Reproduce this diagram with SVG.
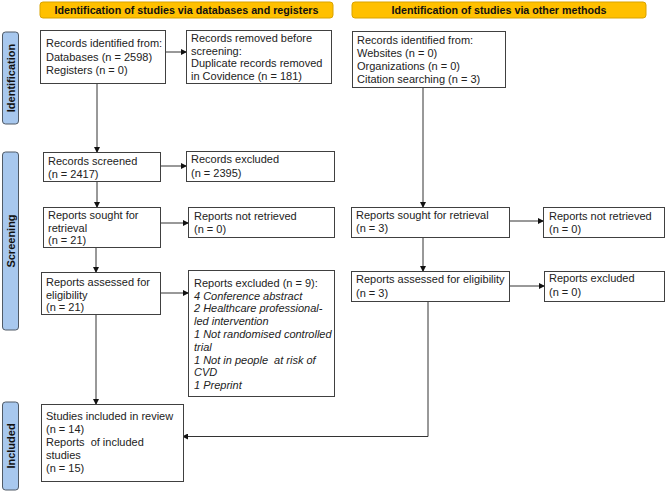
<svg xmlns="http://www.w3.org/2000/svg" width="669" height="492" viewBox="0 0 669 492">
<style>
.box{fill:#fff;stroke:#404040;stroke-width:1}
.hdr{fill:#FFC000;stroke:#D9A300;stroke-width:1}
.side{fill:#A8C8EE;stroke:#505a66;stroke-width:1}
.t{font-family:"Liberation Sans",Arial,sans-serif;font-size:11px;fill:#222;white-space:pre}
.i{font-style:italic}
.h{font-family:"Liberation Sans",Arial,sans-serif;font-size:11px;font-weight:bold;fill:#111}
.s{font-family:"Liberation Sans",Arial,sans-serif;font-size:11px;font-weight:bold;fill:#111}
.c{fill:none;stroke:#333;stroke-width:1}
</style>
<defs>
<marker id="ah" markerWidth="6" markerHeight="6" refX="5" refY="3" orient="auto" markerUnits="userSpaceOnUse">
<path d="M0,0 L6,3 L0,6 Z" fill="#111"/>
</marker>
</defs>

<g id="header-left"><rect class="hdr" x="40" y="2" width="293" height="16" rx="3"/><text class="h" x="186.5" y="13.5" text-anchor="middle" textLength="264" lengthAdjust="spacingAndGlyphs">Identification of studies via databases and registers</text></g>
<g id="header-right"><rect class="hdr" x="352" y="2" width="294" height="16" rx="3"/><text class="h" x="499" y="13.5" text-anchor="middle" textLength="215" lengthAdjust="spacingAndGlyphs">Identification of studies via other methods</text></g>

<g id="side-identification"><rect class="side" x="2.5" y="32" width="16" height="92" rx="3"/><text class="s" transform="translate(14.5,78) rotate(-90)" text-anchor="middle">Identification</text></g>
<g id="side-screening"><rect class="side" x="2.5" y="152" width="16" height="178" rx="3"/><text class="s" transform="translate(14.5,241) rotate(-90)" text-anchor="middle">Screening</text></g>
<g id="side-included"><rect class="side" x="2.5" y="402" width="16" height="88" rx="3"/><text class="s" transform="translate(14.5,446) rotate(-90)" text-anchor="middle">Included</text></g>

<g id="connectors">
<line class="c" x1="166" y1="52" x2="186" y2="52" marker-end="url(#ah)"/>
<line class="c" x1="97" y1="83" x2="97" y2="152" marker-end="url(#ah)"/>
<line class="c" x1="161" y1="166" x2="186" y2="166" marker-end="url(#ah)"/>
<line class="c" x1="97" y1="182" x2="97" y2="207" marker-end="url(#ah)"/>
<line class="c" x1="161" y1="223" x2="188" y2="223" marker-end="url(#ah)"/>
<line class="c" x1="96" y1="247" x2="96" y2="272" marker-end="url(#ah)"/>
<line class="c" x1="161" y1="293" x2="188" y2="293" marker-end="url(#ah)"/>
<line class="c" x1="96" y1="314" x2="96" y2="404" marker-end="url(#ah)"/>
<line class="c" x1="423" y1="87" x2="423" y2="207" marker-end="url(#ah)"/>
<line class="c" x1="510" y1="221" x2="543" y2="221" marker-end="url(#ah)"/>
<line class="c" x1="423" y1="237" x2="423" y2="271" marker-end="url(#ah)"/>
<line class="c" x1="510" y1="286" x2="544" y2="286" marker-end="url(#ah)"/>
<polyline class="c" points="428,301 428,436.5 183,436.5" marker-end="url(#ah)"/>
</g>

<g id="records-identified"><rect class="box" x="40.5" y="30.5" width="125" height="53"/>
<text class="t" x="46" y="47">Records identified from:</text>
<text class="t" x="46" y="60.5">Databases (n = 2598)</text>
<text class="t" x="46" y="74">Registers (n = 0)</text></g>

<g id="records-removed"><rect class="box" x="186.5" y="30.5" width="145" height="53"/>
<text class="t" x="191" y="41.5">Records removed before</text>
<text class="t" x="191" y="54.5">screening:</text>
<text class="t" x="191" y="67">Duplicate records removed</text>
<text class="t" x="191" y="80">in Covidence (n = 181)</text></g>

<g id="records-screened"><rect class="box" x="43.5" y="152.5" width="117" height="29"/>
<text class="t" x="48" y="165">Records screened</text>
<text class="t" x="48" y="178">(n = 2417)</text></g>

<g id="records-excluded"><rect class="box" x="186.5" y="151.5" width="148" height="30"/>
<text class="t" x="191" y="163">Records excluded</text>
<text class="t" x="191" y="177">(n = 2395)</text></g>

<g id="sought-left"><rect class="box" x="43.5" y="207.5" width="117" height="40"/>
<text class="t" x="48" y="219">Reports sought for</text>
<text class="t" x="48" y="232">retrieval</text>
<text class="t" x="48" y="244">(n = 21)</text></g>

<g id="not-retrieved-left"><rect class="box" x="188.5" y="207.5" width="146" height="30"/>
<text class="t" x="194" y="220">Reports not retrieved</text>
<text class="t" x="194" y="233">(n = 0)</text></g>

<g id="assessed-left"><rect class="box" x="41.5" y="272.5" width="119" height="42"/>
<text class="t" x="46" y="286">Reports assessed for</text>
<text class="t" x="46" y="299">eligibility</text>
<text class="t" x="46" y="311">(n = 21)</text></g>

<g id="excluded-left"><rect class="box" x="188.5" y="270.5" width="146" height="126"/>
<text class="t" x="194" y="287">Reports excluded (n = 9):</text>
<text class="t i" x="194" y="299.5">4 Conference abstract</text>
<text class="t i" x="194" y="312">2 Healthcare professional-</text>
<text class="t i" x="194" y="325">led intervention</text>
<text class="t i" x="194" y="337.5">1 Not randomised controlled</text>
<text class="t i" x="194" y="350.5">trial</text>
<text class="t i" x="194" y="363.5">1 Not in people  at risk of</text>
<text class="t i" x="194" y="376">CVD</text>
<text class="t i" x="194" y="389">1 Preprint</text></g>

<g id="included"><rect class="box" x="41.5" y="404.5" width="142" height="77"/>
<text class="t" x="46" y="420">Studies included in review</text>
<text class="t" x="46" y="433">(n = 14)</text>
<text class="t" x="46" y="446">Reports  of included</text>
<text class="t" x="46" y="459">studies</text>
<text class="t" x="46" y="472">(n = 15)</text></g>

<g id="records-identified-other"><rect class="box" x="352.5" y="31.5" width="153" height="56"/>
<text class="t" x="357" y="44">Records identified from:</text>
<text class="t" x="357" y="57">Websites (n = 0)</text>
<text class="t" x="357" y="69.5">Organizations (n = 0)</text>
<text class="t" x="357" y="83">Citation searching (n = 3)</text></g>

<g id="sought-right"><rect class="box" x="351.5" y="207.5" width="158" height="30"/>
<text class="t" x="356" y="219">Reports sought for retrieval</text>
<text class="t" x="356" y="232">(n = 3)</text></g>

<g id="not-retrieved-right"><rect class="box" x="543.5" y="207.5" width="121" height="30"/>
<text class="t" x="549" y="220">Reports not retrieved</text>
<text class="t" x="549" y="233">(n = 0)</text></g>

<g id="assessed-right"><rect class="box" x="351.5" y="271.5" width="158" height="30"/>
<text class="t" x="356" y="283">Reports assessed for eligibility</text>
<text class="t" x="356" y="297">(n = 3)</text></g>

<g id="excluded-right"><rect class="box" x="544.5" y="271.5" width="120" height="30"/>
<text class="t" x="549" y="282">Reports excluded</text>
<text class="t" x="549" y="296">(n = 0)</text></g>
</svg>
